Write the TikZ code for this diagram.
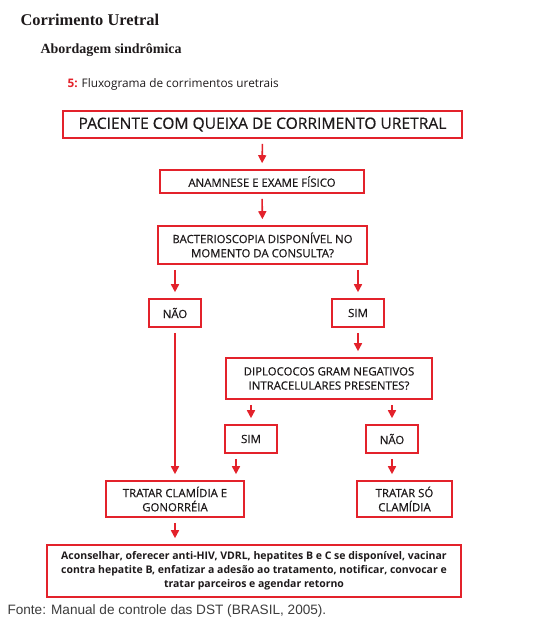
\documentclass[tikz,border=0pt]{standalone}
\usepackage{fontspec}
\setmainfont{Liberation Serif}
\setsansfont{Open Sans}
\newfontfamily\fontearial{Liberation Sans}
\newfontfamily\fontcaixa[RawFeature={embolden=0.6}]{Open Sans}
\usetikzlibrary{calc,positioning,arrows.meta}
\definecolor{FluxoRed}{HTML}{E3222B}
\definecolor{FluxoText}{HTML}{1E1A1B}
\definecolor{FonteGray}{HTML}{3C3C3C}
\tikzset{
  fluxbox/.style={
    draw=FluxoRed,
    line width=1.6pt,
    text=FluxoText,
    inner sep=2pt,
    align=center,
    font=\fontcaixa\fontsize{11.4}{14.2}\selectfont
  },
  flow/.style={
    draw=FluxoRed,
    line width=1.6pt,
    -{Triangle[length=8pt,width=8pt]},
    shorten <=5pt,
    shorten >=6pt
  }
}

\begin{document}
\begin{tikzpicture}[x=1pt,y=-1pt]
  \useasboundingbox (0,0) rectangle (540,621);
  \node[anchor=base west, font=\bfseries\fontsize{16.4}{18}\selectfont, text=FluxoText] (titulo) at (17,25) {Corrimento Uretral};
  \node[anchor=base west, font=\bfseries\fontsize{14}{16}\selectfont, text=FluxoText] (subtitulo) at (37,53) {Abordagem sindrômica};
  \node[anchor=base west, font=\sffamily\fontsize{11.8}{13}\selectfont, text=FluxoText] (legenda) at (64,87) {\textcolor{FluxoRed}{\bfseries 5:} Fluxograma de corrimentos uretrais};

  \node[fluxbox, minimum width=399pt, minimum height=27pt, font=\fontcaixa\fontsize{15.6}{18}\selectfont] (queixa) at (262.5,124.5) {PACIENTE COM QUEIXA DE CORRIMENTO URETRAL};
  \node[fluxbox, minimum width=204pt, minimum height=23pt] (anamnese) at (262,181.5) {ANAMNESE E EXAME FÍSICO};
  \node[fluxbox, minimum width=209pt, minimum height=38pt] (bacterio) at (262.5,245) {BACTERIOSCOPIA DISPONÍVEL NO\\MOMENTO DA CONSULTA?};
  \node[fluxbox, minimum width=52pt, minimum height=28pt] (nao) at (175,313) {NÃO};
  \node[fluxbox, minimum width=52pt, minimum height=28pt] (sim) at (358,313) {SIM};
  \node[fluxbox, minimum width=206pt, minimum height=41pt] (diplo) at (329,378.5) {DIPLOCOCOS GRAM NEGATIVOS\\INTRACELULARES PRESENTES?};
  \node[fluxbox, minimum width=52pt, minimum height=28pt] (simdiplo) at (251,439) {SIM};
  \node[fluxbox, minimum width=52pt, minimum height=28pt] (naodiplo) at (392,439) {NÃO};
  \node[fluxbox, minimum width=138pt, minimum height=36pt] (tratarcg) at (175,499) {TRATAR CLAMÍDIA E\\GONORRÉIA};
  \node[fluxbox, minimum width=95pt, minimum height=36pt] (tratarso) at (404.5,499) {TRATAR SÓ\\CLAMÍDIA};
  \node[fluxbox, minimum width=414pt, minimum height=52pt, font=\sffamily\bfseries\fontsize{10.5}{14}\selectfont] (conduta) at (254,571) {Aconselhar, oferecer anti-HIV, VDRL, hepatites B e C se disponível, vacinar\\contra hepatite B, enfatizar a adesão ao tratamento, notificar, convocar e\\tratar parceiros e agendar retorno};

  \node[anchor=base west, font=\fontearial\fontsize{13.6}{15}\selectfont, text=FonteGray] (fonte) at (4,614) {Fonte: Manual de controle das DST (BRASIL, 2005).};

  \draw[flow] (queixa.south) -- (anamnese.north);
  \draw[flow] (anamnese.south) -- (bacterio.north);
  \draw[flow] (bacterio.south -| nao.north) -- (nao.north);
  \draw[flow] (bacterio.south -| sim.north) -- (sim.north);
  \draw[flow] (sim.south) -- (sim.south |- diplo.north);
  \draw[flow] (diplo.south -| simdiplo.north) -- (simdiplo.north);
  \draw[flow] (diplo.south -| naodiplo.north) -- (naodiplo.north);
  \draw[flow] (nao.south) -- (nao.south |- tratarcg.north);
  \draw[flow] ([xshift=-15pt]simdiplo.south) -- ([xshift=-15pt]simdiplo.south |- tratarcg.north);
  \draw[flow] (naodiplo.south) -- (naodiplo.south |- tratarso.north);
  \draw[flow] (tratarcg.south) -- (tratarcg.south |- conduta.north);
\end{tikzpicture}
\end{document}
